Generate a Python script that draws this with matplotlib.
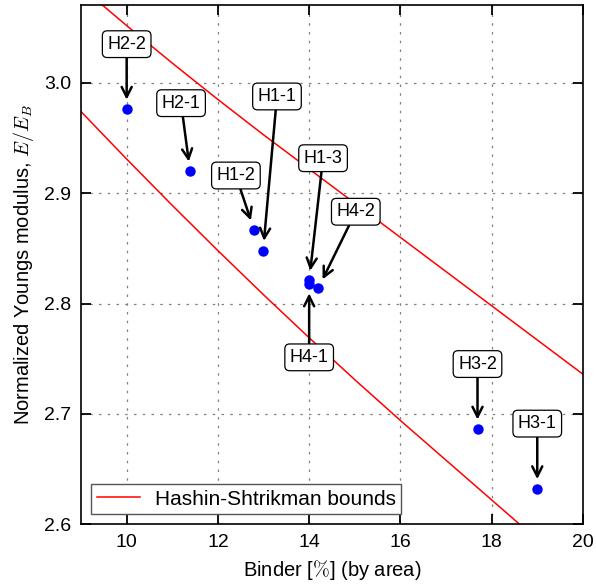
import matplotlib
matplotlib.use("Agg")
import matplotlib.pyplot as plt
import numpy as np

plt.rcParams['font.family'] = ['Liberation Sans', 'DejaVu Sans']
plt.rcParams['mathtext.fontset'] = 'cm'
plt.rcParams['font.size'] = 14

# samples
names = ["H2-2", "H2-1", "H1-2", "H1-1", "H1-3", "H4-2", "H4-1", "H3-2", "H3-1"]
binder = [10.0, 11.39, 12.79, 12.99, 14.0, 14.2, 14.0, 17.69, 19.0]
modulus = [2.976, 2.920, 2.867, 2.848, 2.821, 2.814, 2.818, 2.686, 2.632]

# Hashin-Shtrikman bounds
hs_x = [9, 10, 11, 12, 13, 14, 15, 16, 17, 18, 19, 20]
hs_upper = [3.087, 3.052, 3.018, 2.985, 2.953, 2.922, 2.891, 2.860, 2.829, 2.798, 2.767, 2.736]
hs_lower = [2.974, 2.931, 2.889, 2.848, 2.808, 2.769, 2.731, 2.694, 2.658, 2.622, 2.586, 2.551]

# label offsets (points) from each marker
label_offsets = [(0, 47), (-6.5, 49), (-13, 39), (10, 111), (10, 88),
                 (27, 55), (0, -53), (0, 47), (0, 47)]

fig = plt.figure(figsize=(5.96, 5.87), dpi=100)
ax = fig.add_axes([0.136, 0.107, 0.842, 0.8845])

ax.plot(hs_x, hs_upper, color='red', lw=1.1, label='Hashin-Shtrikman bounds')
ax.plot(hs_x, hs_lower, color='red', lw=1.1)
ax.plot(binder, modulus, 'o', color='blue', ms=7.5, mec='none', zorder=5)

for name, x, y, off in zip(names, binder, modulus, label_offsets):
    ax.annotate(name, (x, y), xytext=off, textcoords='offset points',
                ha='center', va='center', fontsize=13,
                bbox=dict(boxstyle='round,pad=0.27', fc='white', ec='black', lw=0.9),
                arrowprops=dict(arrowstyle='->', color='black', lw=1.8,
                                shrinkA=0, shrinkB=7, mutation_scale=18),
                zorder=6)

ax.set_xlim(9, 20)
ax.set_ylim(2.6, 3.0707)
ax.set_xticks([10, 12, 14, 16, 18, 20])
ax.set_yticks([2.6, 2.7, 2.8, 2.9, 3.0])
ax.tick_params(direction='in', top=True, right=True, length=7, width=1.3, labelsize=14, pad=7)
ax.grid(True, color='gray', linestyle=(0, (2, 5)), lw=0.9)
for s in ax.spines.values():
    s.set_linewidth(1.2)

ax.set_xlabel(r"Binder [$\%$] (by area)", fontsize=14.5, labelpad=5)
ax.set_ylabel(r"Normalized Youngs modulus, $E/E_B$", fontsize=14.5, labelpad=6)

leg = ax.legend(loc='lower left', fancybox=False, edgecolor='#555555', framealpha=1,
                handlelength=2.1, handletextpad=0.7, borderpad=0.25,
                borderaxespad=0.5, fontsize=15)
leg.get_frame().set_linewidth(1.0)

fig.savefig("out.png", dpi=100)
